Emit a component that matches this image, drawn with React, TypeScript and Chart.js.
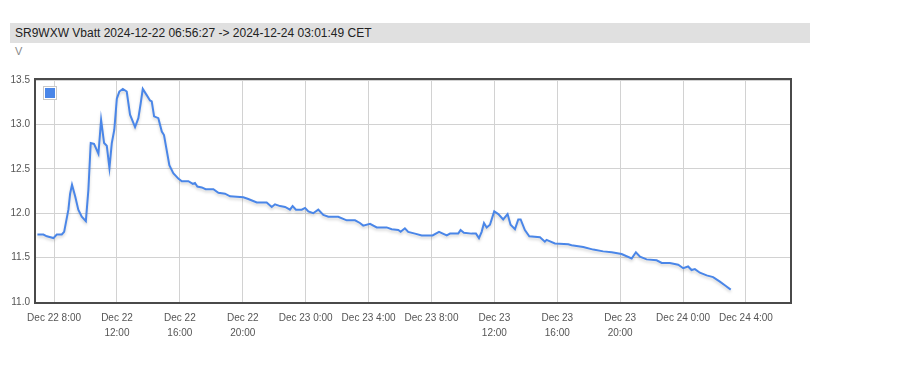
import React, { useEffect, useRef } from "react";
import { Chart, registerables } from "chart.js";

Chart.register(...registerables);

const TITLE = "SR9WXW Vbatt 2024-12-22 06:56:27 -> 2024-12-24 03:01:49 CET";
const UNIT = "V";

// hours since 2024-12-22 00:00 CET
const hours = [
  6.94, 7.32, 7.54, 7.96, 8.17, 8.49, 8.64, 8.91, 9.02, 9.14, 9.34, 9.54, 9.76, 10.02, 10.18, 10.33,
  10.54, 10.82, 10.99, 11.18, 11.35, 11.52, 11.67, 11.83, 11.99, 12.15, 12.37, 12.62, 12.83, 13.15,
  13.36, 13.51, 13.64, 13.89, 14.1, 14.21, 14.36, 14.63, 14.85, 14.99, 15.16, 15.33, 15.58, 15.9,
  16.12, 16.54, 16.82, 16.96, 17.11, 17.39, 17.64, 18.13, 18.45, 18.87, 19.19, 20.03, 20.35, 20.89,
  21.52, 21.84, 22.05, 22.37, 22.69, 23.0, 23.17, 23.38, 23.75, 23.96, 24.17, 24.48, 24.8, 25.12,
  25.44, 26.07, 26.61, 27.14, 27.45, 27.66, 28.09, 28.52, 29.15, 29.47, 29.89, 30.04, 30.31, 30.52,
  30.95, 31.38, 32.07, 32.48, 32.97, 33.18, 33.7, 33.85, 34.06, 34.55, 34.83, 35.02, 35.19, 35.34,
  35.51, 35.72, 35.99, 36.25, 36.56, 36.84, 37.03, 37.31, 37.52, 37.67, 37.94, 38.22, 38.9, 39.21,
  39.32, 39.85, 40.7, 40.91, 41.65, 42.29, 42.92, 43.46, 44.09, 44.73, 45.0, 45.26, 45.68, 46.32,
  46.64, 47.16, 47.69, 48.01, 48.32, 48.54, 48.75, 49.07, 49.5, 49.91, 50.34, 50.72, 51.03,
];

const vbatt = [
  11.76, 11.76, 11.74, 11.72, 11.76, 11.76, 11.79, 12.04, 12.22, 12.32, 12.19, 12.04, 11.96, 11.91, 12.26, 12.79,
  12.78, 12.67, 13.05, 12.79, 12.76, 12.51, 12.79, 12.94, 13.29, 13.37, 13.4, 13.37, 13.11, 12.97,
  13.07, 13.24, 13.4, 13.33, 13.27, 13.26, 13.09, 13.07, 12.92, 12.88, 12.71, 12.54, 12.45, 12.39,
  12.36, 12.36, 12.33, 12.34, 12.3, 12.29, 12.27, 12.27, 12.23, 12.22, 12.19, 12.18, 12.16, 12.12,
  12.12, 12.07, 12.1, 12.08, 12.07, 12.04, 12.08, 12.04, 12.04, 12.06, 12.02, 12.0, 12.04, 11.98,
  11.96, 11.96, 11.92, 11.92, 11.89, 11.86, 11.88, 11.84, 11.84, 11.82, 11.81, 11.79, 11.83, 11.79,
  11.77, 11.75, 11.75, 11.79, 11.75, 11.77, 11.77, 11.81, 11.78, 11.77, 11.77, 11.72, 11.79, 11.89,
  11.84, 11.87, 12.02, 11.99, 11.93, 11.99, 11.87, 11.82, 11.93, 11.93, 11.81, 11.74, 11.73, 11.68,
  11.7, 11.66, 11.65, 11.64, 11.62, 11.59, 11.57, 11.56, 11.54, 11.49, 11.56, 11.51, 11.48, 11.47,
  11.44, 11.44, 11.42, 11.38, 11.4, 11.36, 11.37, 11.33, 11.3, 11.28, 11.23, 11.18, 11.14,
];

const xTickHours = [8, 12, 16, 20, 24, 28, 32, 36, 40, 44, 48, 52];
const xTickLabels: (string | string[])[] = [
  "Dec 22 8:00",
  ["Dec 22", "12:00"],
  ["Dec 22", "16:00"],
  ["Dec 22", "20:00"],
  "Dec 23 0:00",
  "Dec 23 4:00",
  "Dec 23 8:00",
  ["Dec 23", "12:00"],
  ["Dec 23", "16:00"],
  ["Dec 23", "20:00"],
  "Dec 24 0:00",
  "Dec 24 4:00",
];

const frame = {
  id: "frame",
  beforeDatasetsDraw(chart: any) {
    const { ctx } = chart;
    ctx.save();
    ctx.shadowColor = "rgba(0,0,0,0.18)";
    ctx.shadowBlur = 3;
    ctx.shadowOffsetY = 2;
  },
  afterDatasetsDraw(chart: any) {
    const { ctx, chartArea: a } = chart;
    ctx.restore();
    ctx.save();
    ctx.strokeStyle = "#4a4a4a";
    ctx.lineWidth = 2;
    ctx.strokeRect(a.left - 1, a.top - 1, a.right - a.left + 2, a.bottom - a.top + 2);
    // legend box
    ctx.lineWidth = 1;
    ctx.strokeStyle = "#c8c8c8";
    ctx.fillStyle = "#ffffff";
    ctx.fillRect(a.left + 7.5, a.top + 6.5, 13, 13);
    ctx.strokeRect(a.left + 7.5, a.top + 6.5, 13, 13);
    ctx.fillStyle = "#4a86e8";
    ctx.fillRect(a.left + 9, a.top + 8, 10, 10);
    ctx.restore();
  },
};

export default function App() {
  const ref = useRef<HTMLCanvasElement>(null);
  useEffect(() => {
    document.body.style.margin = "0";
    const data = hours.map((h, i) => ({ x: h, y: vbatt[i] }));
    const chart = new Chart(ref.current!, {
      type: "line",
      data: {
        datasets: [
          {
            label: "Vbatt",
            data,
            borderColor: "#4a86e8",
            borderWidth: 2,
            pointRadius: 0,
            tension: 0,
            fill: false,
          },
        ],
      },
      options: {
        animation: false,
        responsive: false,
        maintainAspectRatio: false,
        layout: { padding: { left: 0, top: 80, right: 133, bottom: 0 } },
        plugins: { legend: { display: false }, tooltip: { enabled: false } },
        scales: {
          x: {
            type: "linear",
            min: 6.85,
            max: 54.8,
            afterBuildTicks: (scale: any) => {
              scale.ticks = xTickHours.map((v) => ({ value: v }));
            },
            afterFit: (scale: any) => {
              scale.height = 67;
            },
            ticks: {
              autoSkip: false,
              maxRotation: 0,
              padding: 9,
              color: "#555",
              font: { family: "Liberation Sans, Arial, sans-serif", size: 10, lineHeight: 1.5 },
              callback: (v: any) => {
                const i = xTickHours.indexOf(Number(v));
                return i >= 0 ? xTickLabels[i] : "";
              },
            },
            grid: { color: "#d2d2d2", drawTicks: false, lineWidth: 1 },
            border: { display: false },
          },
          y: {
            type: "linear",
            min: 11,
            max: 13.5,
            afterFit: (scale: any) => {
              scale.width = 36;
            },
            ticks: {
              stepSize: 0.5,
              padding: 6,
              color: "#555",
              font: { family: "Liberation Sans, Arial, sans-serif", size: 10 },
              callback: (v: any) => Number(v).toFixed(1),
            },
            grid: { color: "#d2d2d2", drawTicks: false, lineWidth: 1 },
            border: { display: false },
          },
        },
      },
      plugins: [frame],
    });
    return () => chart.destroy();
  }, []);

  return (
    <div style={{ position: "relative", width: 923, height: 369, fontFamily: "Liberation Sans, Arial, sans-serif" }}>
      <div
        style={{
          position: "absolute",
          left: 10,
          top: 23,
          width: 800,
          height: 20,
          background: "#e0e0e0",
          color: "#222",
          fontSize: 12,
          lineHeight: "20px",
          paddingLeft: 5,
          boxSizing: "border-box",
        }}
      >
        {TITLE}
      </div>
      <div style={{ position: "absolute", left: 15, top: 45, fontSize: 11, color: "#888" }}>{UNIT}</div>
      <canvas ref={ref} width={923} height={369} style={{ position: "absolute", left: 0, top: 0 }} />
    </div>
  );
}
